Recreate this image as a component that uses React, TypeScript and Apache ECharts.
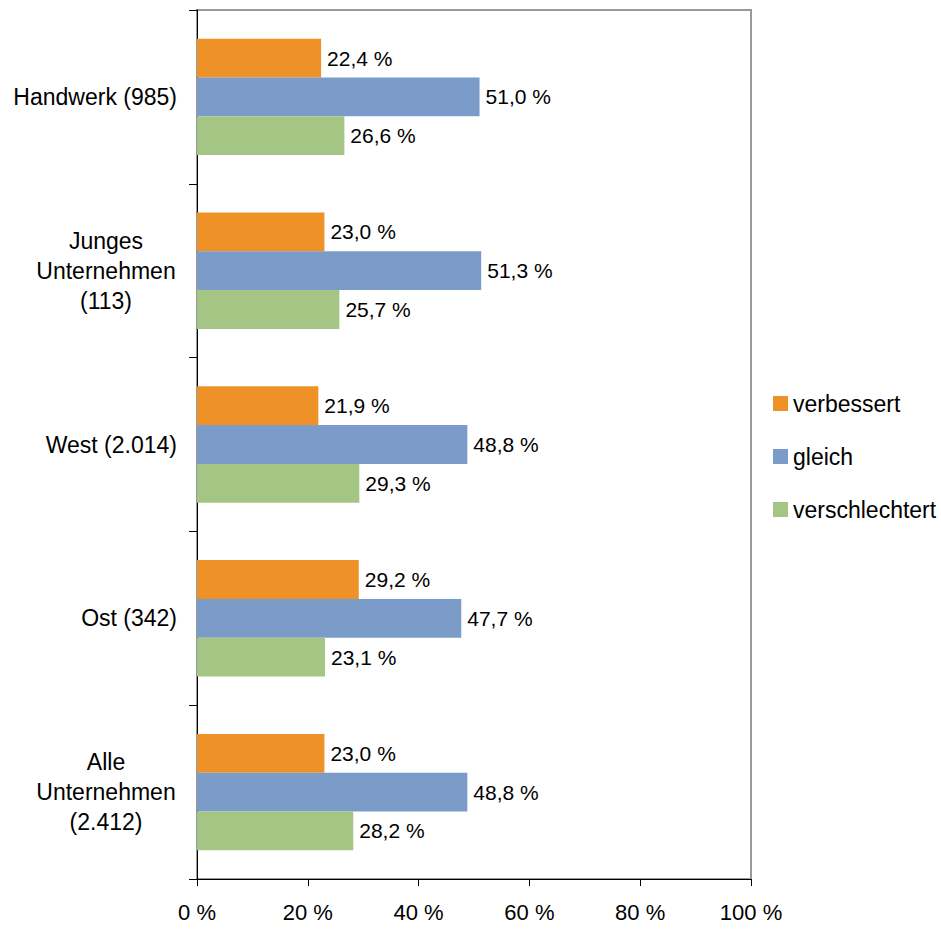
import React, { useEffect, useRef } from "react";
import * as echarts from "echarts";

const categories = [
  "Handwerk (985)",
  "Junges\nUnternehmen\n(113)",
  "West (2.014)",
  "Ost (342)",
  "Alle\nUnternehmen\n(2.412)",
];
const seriesNames = ["verbessert", "gleich", "verschlechtert"];
const verbessert = [22.4, 23.0, 21.9, 29.2, 23.0];
const gleich = [51.0, 51.3, 48.8, 47.7, 48.8];
const verschlechtert = [26.6, 25.7, 29.3, 23.1, 28.2];
const colors = ["#EE9228", "#7B9CC9", "#A5C585"];
const FONT = "'Liberation Sans', Arial, sans-serif";

const fmt = (v: number) => v.toFixed(1).replace(".", ",") + " %";

export default function App() {
  const ref = useRef<HTMLDivElement>(null);
  useEffect(() => {
    document.body.style.margin = "0";
    document.body.style.overflow = "hidden";
    if (!ref.current) return;
    const chart = echarts.init(ref.current, null, { renderer: "svg" });
    const values = [verbessert, gleich, verschlechtert];
    chart.setOption({
      animation: false,
      textStyle: { fontFamily: FONT },
      grid: {
        left: 197,
        top: 10,
        right: 190,
        bottom: 50,
        show: true,
        borderColor: "#9a9a9a",
        borderWidth: 2,
        containLabel: false,
      },
      legend: {
        orient: "vertical",
        left: 773,
        top: 392,
        padding: 0,
        itemWidth: 15,
        itemHeight: 15,
        itemGap: 30,
        icon: "rect",
        textStyle: { fontSize: 23, color: "#000", fontFamily: FONT },
        data: seriesNames,
      },
      xAxis: {
        type: "value",
        min: 0,
        max: 100,
        interval: 20,
        axisLine: { show: true, lineStyle: { color: "#000", width: 1 } },
        axisTick: { show: true, length: 7, lineStyle: { color: "#000" } },
        splitLine: { show: false },
        axisLabel: {
          formatter: "{value} %",
          fontSize: 22,
          color: "#000",
          margin: 22,
          fontFamily: FONT,
        },
      },
      yAxis: {
        type: "category",
        inverse: true,
        data: categories,
        axisLine: { show: true, lineStyle: { color: "#000", width: 1 } },
        axisTick: { show: true, length: 8, alignWithLabel: false, lineStyle: { color: "#000" } },
        axisLabel: {
          margin: 20,
          fontSize: 23,
          color: "#000",
          fontFamily: FONT,
          lineHeight: 30,
          formatter: (val: string) =>
            val.indexOf("\n") >= 0
              ? val
                  .split("\n")
                  .map((l) => "{c|" + l + "}")
                  .join("\n")
              : val,
          rich: {
            c: {
              width: 142,
              align: "center",
              fontSize: 23,
              lineHeight: 30,
              color: "#000",
              fontFamily: FONT,
            },
          },
        },
      },
      series: seriesNames.map((name, i) => ({
        name,
        type: "bar",
        data: values[i],
        itemStyle: { color: colors[i] },
        barGap: "0%",
        barCategoryGap: "33%",
        label: {
          show: true,
          position: "right",
          distance: 6,
          color: "#000",
          fontSize: 21,
          fontFamily: FONT,
          formatter: (p: any) => fmt(p.value),
        },
      })),
    });
    return () => chart.dispose();
  }, []);
  return <div ref={ref} style={{ width: 941, height: 929 }} />;
}
